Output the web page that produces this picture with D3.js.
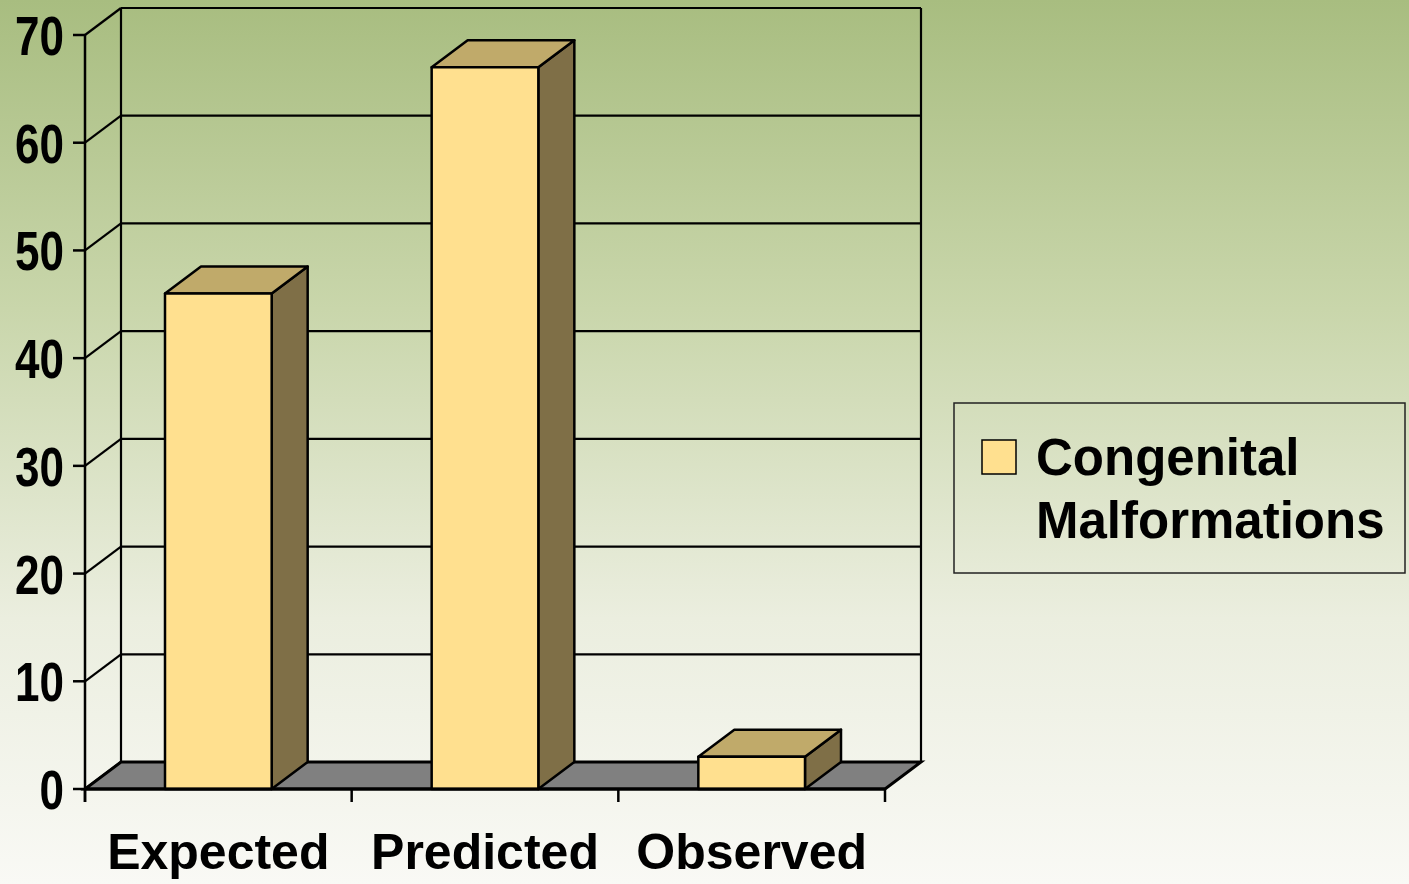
<!DOCTYPE html>
<html>
<head>
<meta charset="utf-8">
<script src="https://cdn.jsdelivr.net/npm/d3@7"></script>
<style>
html,body{margin:0;padding:0;overflow:hidden;}
svg{display:block;}
</style>
</head>
<body>
<script>
const categories = ["Expected", "Predicted", "Observed"];
const values = [46, 67, 3];
const yTicks = [0, 10, 20, 30, 40, 50, 60, 70];
const seriesName = ["Congenital", "Malformations"];

(function () {
const W = 1409, H = 884;
const svg = d3.select("body").append("svg").attr("width", W).attr("height", H);

const defs = svg.append("defs");
const grad = defs.append("linearGradient").attr("id", "bg").attr("x1", 0).attr("y1", 0).attr("x2", 0).attr("y2", 1);
[[0, "#a8bd80"], [0.35, "#c9d6ab"], [0.7, "#ebeedf"], [1, "#f9f9f5"]].forEach(([o, c]) =>
  grad.append("stop").attr("offset", o).attr("stop-color", c));
svg.append("rect").attr("width", W).attr("height", H).attr("fill", "url(#bg)");

const x0 = 85, x1 = 885;
const dx = 36, dy = -27;
const y = d3.scaleLinear().domain([0, 70]).range([789, 35]);
const xb = d3.scaleBand().domain(categories).range([x0, x1]).paddingInner(0.6).paddingOuter(0.3);
const xStep = (x1 - x0) / categories.length;

const cFront = "#ffe08f", cTop = "#c0aa6a", cSide = "#7f6f47";

const g = svg.append("g");
yTicks.filter(t => t > 0).forEach(t => {
  g.append("line").attr("x1", x0 + dx).attr("x2", x1 + dx)
    .attr("y1", y(t) + dy).attr("y2", y(t) + dy)
    .attr("stroke", "#000").attr("stroke-width", 2.2);
});
[x0 + dx, x1 + dx].forEach(xx => {
  g.append("line").attr("x1", xx).attr("x2", xx)
    .attr("y1", y(70) + dy).attr("y2", y(0) + dy)
    .attr("stroke", "#000").attr("stroke-width", 2.2);
});
yTicks.forEach(t => {
  g.append("line").attr("x1", x0).attr("y1", y(t))
    .attr("x2", x0 + dx).attr("y2", y(t) + dy)
    .attr("stroke", "#000").attr("stroke-width", 2.2);
});

const floorPts = [[x0, y(0)], [x1, y(0)], [x1 + dx, y(0) + dy], [x0 + dx, y(0) + dy]];
g.append("polygon").attr("points", floorPts.map(p => p.join(",")).join(" "))
  .attr("fill", "#808080").attr("stroke", "#000").attr("stroke-width", 3).attr("stroke-linejoin", "miter");

const bars = svg.append("g");
categories.forEach((c, i) => {
  const bx = xb(c), bw = xb.bandwidth();
  const yt = y(values[i]), yb = y(0);
  const bg = bars.append("g").attr("stroke", "#000").attr("stroke-width", 2.5).attr("stroke-linejoin", "round");
  bg.append("polygon").attr("points", [[bx + bw, yt], [bx + bw + dx, yt + dy], [bx + bw + dx, yb + dy], [bx + bw, yb]].map(p => p.join(",")).join(" "))
    .attr("fill", cSide);
  bg.append("polygon").attr("points", [[bx, yt], [bx + dx, yt + dy], [bx + bw + dx, yt + dy], [bx + bw, yt]].map(p => p.join(",")).join(" "))
    .attr("fill", cTop);
  bg.append("rect").attr("x", bx).attr("y", yt).attr("width", bw).attr("height", yb - yt).attr("fill", cFront);
});

const ax = svg.append("g").attr("stroke", "#000").attr("stroke-width", 2.5);
ax.append("line").attr("x1", x0).attr("x2", x0).attr("y1", y(70)).attr("y2", y(0) + 13);
ax.append("line").attr("x1", x0).attr("x2", x1).attr("y1", y(0)).attr("y2", y(0)).attr("stroke-width", 3);
yTicks.forEach(t => {
  ax.append("line").attr("x1", x0 - 12).attr("x2", x0).attr("y1", y(t)).attr("y2", y(t));
});
d3.range(categories.length + 1).forEach(i => {
  const xx = x0 + i * xStep;
  ax.append("line").attr("x1", xx).attr("x2", xx).attr("y1", y(0)).attr("y2", y(0) + 13);
});

svg.append("g").selectAll("text").data(yTicks).join("text")
  .attr("transform", d => `translate(64,${y(d) + 20}) scale(0.8,1)`)
  .attr("text-anchor", "end")
  .attr("font-family", "'Liberation Sans', sans-serif")
  .attr("font-weight", "bold").attr("font-size", 55).attr("fill", "#000")
  .text(d => d);

svg.append("g").selectAll("text").data(categories).join("text")
  .attr("x", d => xb(d) + xb.bandwidth() / 2).attr("y", 869)
  .attr("text-anchor", "middle")
  .attr("font-family", "'Liberation Sans', sans-serif")
  .attr("font-weight", "bold").attr("font-size", 50).attr("fill", "#000")
  .text(d => d);

const lg = svg.append("g");
lg.append("rect").attr("x", 954).attr("y", 403).attr("width", 451).attr("height", 170)
  .attr("fill", "none").attr("stroke", "#222").attr("stroke-width", 1.5);
lg.append("rect").attr("x", 982).attr("y", 440).attr("width", 34).attr("height", 34)
  .attr("fill", cFront).attr("stroke", "#000").attr("stroke-width", 1.5);
seriesName.forEach((s, i) => {
  lg.append("text").attr("x", 1036).attr("y", 475 + i * 63)
    .attr("font-family", "'Liberation Sans', sans-serif")
    .attr("font-weight", "bold").attr("font-size", 51).attr("fill", "#000")
    .text(s);
});
})();
</script>
</body>
</html>
